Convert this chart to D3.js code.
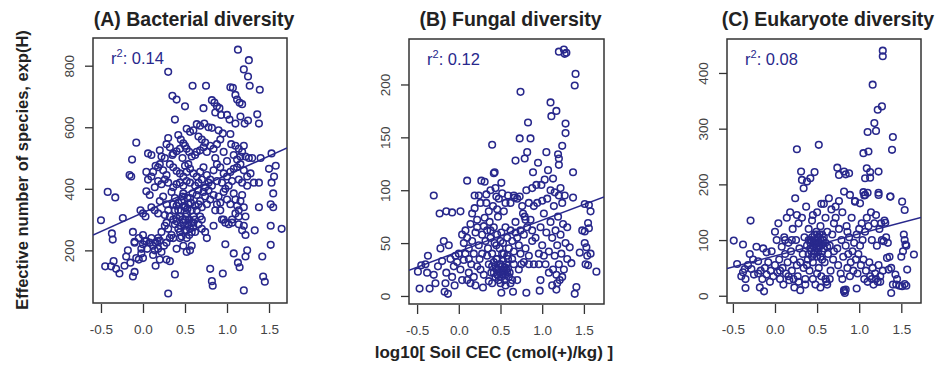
<!DOCTYPE html>
<html>
<head>
<meta charset="utf-8">
<script src="https://cdn.jsdelivr.net/npm/d3@7"></script>
<style>
  html, body { margin: 0; padding: 0; background: #fff; }
  svg { display: block; font-family: "Liberation Sans", Arial, sans-serif; }
</style>
</head>
<body>
<svg id="chart" width="947" height="372"></svg>
<script>
// ---- data ---------------------------------------------------------------
const panelTitles = ["(A) Bacterial diversity", "(B) Fungal diversity", "(C) Eukaryote diversity"];
const r2Labels = ["0.14", "0.12", "0.08"];
const fitIntercepts = [322.5, 42.0, 71.5];
const fitSlopes = [122.6, 29.7, 39.7];
const xTickValues = [-0.5, 0.0, 0.5, 1.0, 1.5];
const xTickLabels = ["-0.5", "0.0", "0.5", "1.0", "1.5"];
const yTicksBacterial = [200, 400, 600, 800];
const yTicksFungal = [0, 50, 100, 150, 200];
const yTicksEukaryote = [0, 100, 200, 300, 400];
const xAxisTitle = "log10[ Soil CEC (cmol(+)/kg) ]";
const yAxisTitle = "Effective number of species, exp(H)";

const bacterialPoints = [
  [1.13,852],[1.26,818],[1.20,788],[1.25,765],[1.27,735],[1.39,722],[0.30,780],[0.59,735],[0.75,735],[1.04,730],
  [1.07,728],[1.10,705],[1.12,690],[1.15,680],[1.18,675],[0.35,702],[0.40,690],
  [0.50,668],[0.72,662],[0.82,688],[0.85,680],[0.88,668],[0.91,662],[0.86,648],[0.93,640],[1.00,640],[1.03,625],
  [1.16,635],[1.21,612],[1.25,622],[1.36,642],[1.38,612],[0.38,625],[0.64,610],[0.68,605],[0.73,612],[0.78,600],
  [0.82,598],[1.10,612],[0.56,585],[0.52,595],[0.60,590],[0.90,590],[0.95,580],[1.04,578],
  [0.30,565],[0.42,575],[0.45,560],[0.48,548],[0.50,540],[0.52,530],[0.55,520],[0.44,530],[0.40,522],[0.36,515],
  [0.32,535],[0.28,545],[0.66,570],[0.70,560],[0.74,550],[0.72,535],[0.68,525],[0.76,520],[0.80,540],[0.84,530],
  [0.88,545],[0.92,560],[0.96,520],[0.86,500],[1.05,545],[1.10,540],[1.14,530],[1.18,520],[1.22,505],[1.20,540],
  [1.08,510],[1.12,495],[1.16,505],[1.26,500],[1.30,500],[1.40,500],[1.53,515],[-0.08,550],[0.06,515],[0.10,510],
  [0.20,525],[0.22,505],[0.26,500],[0.35,510],[0.47,500],[0.58,505],[0.62,510],[0.64,520],[0.54,480],[0.50,475],[1.00,490],
  [-0.13,495],[-0.16,445],[-0.14,440],[0.04,455],[0.12,455],[0.15,475],[0.18,470],[0.20,480],[0.24,460],[0.28,445],
  [0.32,480],[0.36,470],[0.40,458],[0.44,450],[0.48,440],[0.52,455],[0.56,465],[0.60,450],[0.64,440],[0.68,455],
  [0.72,470],[0.76,445],[0.80,430],[0.84,460],[0.88,480],[0.92,470],[0.96,450],[1.00,440],[1.04,455],[1.08,465],
  [1.12,470],[1.16,480],[1.20,460],[1.24,440],[1.28,450],[1.32,420],[1.24,410],[1.18,420],[1.14,430],[1.06,425],
  [1.02,410],[0.98,400],[0.94,420],[0.88,425],[0.82,410],[0.78,420],[0.74,405],[0.70,430],[0.66,420],[0.62,410],
  [0.56,420],[0.52,425],[0.48,410],[0.44,420],[0.40,415],[0.36,405],[0.30,420],[0.26,430],[0.22,415],[0.18,425],
  [0.14,405],[0.10,440],[0.06,430],[1.50,465],[1.58,475],[1.56,440],[1.53,420],[1.38,420],
  [-0.42,390],[-0.33,372],[0.04,392],[0.08,380],[-0.24,305],[-0.03,330],[0.00,320],[0.03,310],[0.10,340],[0.14,330],
  [0.18,320],[0.20,360],[0.24,375],[0.28,350],[0.30,330],[0.34,390],[0.38,370],[0.40,345],[0.42,330],[0.44,310],
  [0.46,360],[0.48,385],[0.50,340],[0.52,320],[0.54,350],[0.56,370],[0.58,330],[0.60,310],[0.62,345],[0.64,380],
  [0.66,395],[0.68,360],[0.70,340],[0.72,390],[0.74,375],[0.76,350],[0.78,395],[0.80,365],[0.84,380],[0.86,330],
  [0.88,350],[0.90,375],[0.92,355],[0.96,390],[1.00,365],[1.04,350],[1.08,385],[1.10,365],[1.12,345],[1.14,330],
  [1.16,360],[1.18,380],[1.20,340],[1.22,310],[1.14,310],[1.10,320],[1.06,300],[0.96,300],[0.92,330],[1.55,385],
  [1.55,340],[1.52,350],[1.38,340],[0.40,305],[0.50,300],[0.36,300],[0.26,315],[0.32,310],
  [0.45,330],[0.47,300],[0.49,345],[0.51,310],[0.53,370],[0.55,300],[0.57,355],[0.59,385],[0.45,280],[0.50,265],
  [0.55,250],[0.60,290],[0.42,355],[0.38,330],[0.36,350],[0.62,300],[0.64,330],[0.66,350],[0.68,310],[0.70,300],
  [0.53,335],[0.47,375],[0.58,260],[0.44,240],[0.52,240],
  [-0.50,298],[-0.37,255],[-0.36,235],[-0.12,260],[-0.10,228],[-0.05,240],[0.00,250],[0.04,230],[0.08,225],[0.12,215],
  [0.15,225],[0.18,240],[0.20,232],[0.22,260],[0.26,280],[0.28,290],[0.30,270],[0.34,250],[0.36,240],[0.38,285],
  [0.40,295],[0.42,270],[0.44,260],[0.46,245],[0.48,290],[0.50,280],[0.52,265],[0.54,285],[0.56,270],[0.58,290],
  [0.60,275],[0.62,260],[0.66,285],[0.70,270],[0.74,260],[0.76,240],[0.84,280],[0.94,300],[0.98,290],[1.02,285],
  [1.06,290],[1.14,285],[1.18,265],[1.22,250],[1.20,280],[1.33,265],[1.52,280],[1.65,270],[1.52,218],[0.98,220],
  [0.48,215],[0.56,200],[0.58,215],[0.40,205],[0.10,240],[0.17,230],[0.05,205],[0.02,230],[0.00,220],[-0.02,205],
  [-0.18,200],[-0.10,225],[0.14,200],[0.18,205],[0.22,195],[0.25,215],[0.28,225],[0.32,240],
  [-0.45,148],[-0.38,148],[-0.35,165],[-0.32,140],[-0.28,125],[-0.22,150],[-0.20,180],[-0.15,160],[-0.10,130],[-0.12,115],
  [-0.05,170],[-0.08,175],[-0.02,190],[0.12,185],[0.20,170],[0.15,150],[0.38,122],[0.30,60],[0.28,170],[0.32,165],
  [0.52,195],[0.80,140],[0.82,100],[0.83,85],[0.95,125],[1.08,190],[1.13,160],[1.15,145],[1.20,70],[1.22,180],
  [1.24,200],[1.42,180],[1.43,115],[1.45,98],[0.00,175]
];

const fungalPoints = [
  [1.20,231],[1.26,233],[1.29,230],[1.27,229],[1.40,210],[1.39,199],[0.74,193],[1.10,183],[1.17,175],[1.11,170],
  [0.83,164],[1.28,163],[1.28,154],[0.40,143],[0.73,149],[0.86,149],[1.24,142],[1.05,136],[1.19,134],[0.82,136],
  [0.79,130],[0.68,128],[0.95,126],[1.20,130],[1.20,124],[0.43,117],[0.89,117],[1.07,119],[1.37,117],[0.42,116],
  [0.10,109],[0.27,109],[0.31,108],[0.51,107],[-0.30,95],[0.19,95],[0.33,96],[0.45,94],[0.59,95],[0.67,93],
  [0.73,94],[0.81,100],[0.88,102],[0.93,105],[0.99,105],[1.03,110],[1.13,111],[1.22,102],[1.27,95],[1.37,93],
  [1.51,87],[1.56,86],[-0.23,78],[-0.15,80],[-0.08,79],[0.02,80],[0.19,83],[0.77,78],[0.79,75],
  [-0.45,29],[-0.49,23],[-0.37,38],[-0.47,7],[-0.35,7],[-0.17,4],[-0.13,2],[-0.40,30],[-0.38,22],[-0.30,20],
  [-0.28,12],[-0.25,28],[-0.22,45],[-0.20,33],[-0.18,52],[-0.16,12],[-0.15,22],[-0.12,48],[-0.10,35],[-0.08,18],
  [-0.06,28],[-0.05,10],[-0.04,38],[-0.02,32],[0.00,40],[0.02,25],[0.04,15],[0.06,34],
  [0.29,8],[0.51,3],[0.65,4],[0.81,3],[0.97,5],[1.17,6],[1.39,2],[1.41,8.5],
  [1.65,23],[1.55,29],[1.54,38],[1.53,46],[1.51,61],[1.55,69],[1.58,80],[1.35,31],[1.45,41],[1.51,50],
  [1.33,46],[1.56,64],[1.58,40],[1.52,30],[1.48,62],
  [0.08,62],[0.10,55],[0.12,45],[0.14,68],[0.15,30],[0.16,52],[0.18,40],[0.20,60],[0.22,72],[0.24,48],
  [0.25,35],[0.26,25],[0.28,58],[0.30,66],[0.10,15],[0.12,22],[0.14,12],[0.18,18],[0.22,28],[0.06,50],
  [0.04,58],[0.08,40],[0.20,10],[0.28,40],[0.30,20],[0.16,78],[0.26,88],[0.24,95],[0.22,65],[0.12,35],
  [0.32,52],[0.34,62],[0.35,45],[0.36,30],[0.37,70],[0.38,55],[0.39,22],[0.40,40],[0.41,85],[0.42,65],
  [0.43,50],[0.44,18],[0.45,35],[0.46,58],[0.47,75],[0.48,25],[0.49,45],[0.50,30],[0.51,60],[0.52,20],
  [0.53,50],[0.54,40],[0.55,15],[0.56,65],[0.57,25],[0.58,55],[0.59,35],[0.60,18],[0.33,88],[0.38,100],
  [0.44,102],[0.48,92],[0.52,97],[0.56,88],[0.36,80],[0.46,82],[0.54,80],[0.34,38],[0.40,28],[0.42,22],
  [0.46,20],[0.50,22],[0.52,28],[0.54,24],[0.56,20],[0.58,22],[0.44,28],[0.48,15],[0.36,14],[0.40,12],
  [0.62,12],[0.64,15],[0.66,30],[0.60,45],[0.50,52],[0.45,48],[0.38,62],[0.31,74],
  [0.45,25],[0.47,20],[0.49,30],[0.51,18],[0.53,33],[0.55,27],[0.57,30],[0.59,26],[0.61,22],[0.50,12],
  [0.56,10],[0.46,35],[0.52,40],[0.58,38],[0.42,32],
  [0.62,62],[0.64,52],[0.66,42],[0.68,70],[0.70,55],[0.72,48],[0.74,62],[0.75,30],[0.76,85],[0.78,58],
  [0.80,45],[0.82,65],[0.84,38],[0.86,72],[0.88,52],[0.90,30],[0.70,15],[0.72,25],[0.78,32],[0.84,30],
  [0.88,62],[0.66,95],[0.62,88],[0.70,92],[0.84,88],[0.90,85],[0.80,72],[0.74,40],[0.68,60],[0.64,35],
  [0.92,55],[0.94,88],[0.96,40],[0.98,65],[1.00,48],[1.02,78],[1.04,30],[1.05,60],[1.06,92],[1.08,42],
  [1.10,70],[1.12,55],[1.13,25],[1.14,85],[1.15,38],[1.16,62],[1.17,20],[1.18,48],[1.19,75],[1.20,30],
  [1.21,15],[1.22,58],[1.23,40],[1.24,88],[1.25,68],[1.26,25],[1.28,50],[1.30,35],[1.30,65],[1.10,100],
  [1.15,98],[1.20,95],[1.00,90],[0.96,30],[1.02,38],[1.12,10],[1.18,12],[1.24,18],[1.08,22],[0.98,15]
];

const eukaryotePoints = [
  [1.28,440],[1.28,430],[1.16,379],[1.22,334],[1.27,340],[1.18,310],[1.10,294],[1.20,296],[1.40,285],[1.39,262],
  [0.26,263],[0.52,271],[1.05,256],[1.11,259],[0.31,223],[0.47,222],[0.74,230],[0.82,223],[0.88,220],[1.09,229],
  [1.13,222],[1.23,223],[0.32,208],[0.38,205],[0.42,211],[0.34,193],[0.76,217],[0.84,218],[1.07,211],[1.13,212],
  [0.82,187],[0.89,181],[0.95,169],[1.01,166],[1.05,186],[1.07,181],[1.23,181],[1.37,178],[1.51,169],[1.54,154],
  [-0.29,135],[-0.49,99],[-0.38,92],[-0.45,57],[-0.35,14],[-0.13,8],[0.82,8],[0.84,11],[0.97,13],[1.38,5],
  [1.53,110],[1.55,92],[1.65,74],[1.57,47],[1.43,38],[1.54,21],[1.51,17],[1.35,47],[1.33,68],[1.29,98],[1.31,131],
  [-0.40,35],[-0.38,42],[-0.35,30],[-0.32,55],[-0.30,75],[-0.28,48],[-0.25,38],[-0.22,88],[-0.20,62],[-0.18,15],
  [-0.17,45],[-0.15,30],[-0.14,85],[-0.12,50],[-0.10,38],[-0.08,60],[-0.06,25],[-0.05,45],[-0.04,80],[-0.02,35],
  [0.00,55],[0.00,115],[0.02,100],[0.03,42],[-0.10,78],[-0.20,40],[-0.26,65],[-0.36,48],
  [0.04,130],[0.05,65],[0.06,30],[0.08,88],[0.09,50],[0.10,20],[0.11,105],[0.12,75],[0.13,40],[0.14,140],
  [0.15,60],[0.16,95],[0.17,28],[0.18,150],[0.19,80],[0.20,45],[0.21,120],[0.22,65],[0.23,15],[0.24,175],
  [0.25,100],[0.26,55],[0.27,35],[0.28,130],[0.29,85],[0.30,60],[0.30,10],[0.12,100],[0.20,100],[0.26,145],
  [0.06,45],[0.16,35],[0.22,30],[0.28,25],
  [0.32,140],[0.33,75],[0.34,50],[0.35,105],[0.36,30],[0.37,160],[0.38,90],[0.39,65],[0.40,120],[0.41,45],
  [0.42,100],[0.43,80],[0.44,135],[0.45,60],[0.46,95],[0.47,110],[0.48,20],[0.49,85],[0.50,70],[0.51,105],
  [0.52,50],[0.53,90],[0.54,125],[0.55,35],[0.56,80],[0.57,100],[0.58,165],[0.59,60],[0.60,140],[0.61,25],
  [0.62,115],[0.63,75],[0.64,175],[0.65,90],[0.66,45],[0.67,155],[0.68,110],[0.69,65],[0.70,130],[0.44,98],
  [0.48,92],[0.52,96],[0.46,75],[0.54,70],[0.50,110],[0.42,85],[0.56,110],[0.58,85],[0.40,75],[0.38,55],
  [0.50,40],[0.60,30],[0.62,20],[0.54,15],[0.45,30],[0.36,20],[0.50,150],[0.45,145],[0.55,165],[0.65,30],
  [0.42,95],[0.44,105],[0.46,88],[0.48,100],[0.50,95],[0.52,85],[0.54,100],[0.56,92],[0.58,105],[0.60,95],
  [0.47,80],[0.53,110],[0.49,115],[0.51,78],[0.40,100],[0.62,88],[0.44,70],[0.56,65],
  [0.72,160],[0.74,85],[0.75,55],[0.76,120],[0.78,40],[0.79,100],[0.80,150],[0.81,70],[0.82,10],[0.83,5],
  [0.84,90],[0.85,125],[0.86,50],[0.87,75],[0.88,105],[0.89,35],[0.90,60],[0.91,140],[0.92,80],[0.93,45],
  [0.94,95],[0.95,170],[0.96,65],[0.97,110],[0.98,40],[0.99,75],[0.76,170],[0.72,140],[0.80,30],[0.70,80],[0.86,115],
  [1.00,120],[1.01,90],[1.02,55],[1.03,130],[1.04,100],[1.05,65],[1.06,30],[1.07,115],[1.08,45],[1.09,140],
  [1.10,25],[1.11,125],[1.12,60],[1.13,35],[1.14,150],[1.15,100],[1.16,50],[1.17,20],[1.18,130],[1.19,40],
  [1.20,145],[1.21,90],[1.22,25],[1.23,55],[1.24,120],[1.25,35],[1.26,130],[1.27,100],[1.28,45],[1.30,135],
  [1.32,105],[1.34,95],[1.36,70],[1.38,50],[1.40,20],[1.06,180],[1.10,185],[1.23,185],[1.37,178],[1.15,30],
  [1.20,30],[1.25,25],[1.45,30],[1.50,70],[1.52,80],[1.54,100],[1.56,90],[1.56,18],[1.48,18],[1.44,20]
];

const seriesPoints = [bacterialPoints, fungalPoints, eukaryotePoints];
const seriesYTicks = [yTicksBacterial, yTicksFungal, yTicksEukaryote];

// ---- layout -------------------------------------------------------------
const panels = [
  { left: 93,  right: 287, top: 38, bottom: 303, xDomain: [-0.595, 1.714], yDomain: [29, 890] },
  { left: 409, right: 604, top: 39, bottom: 304, xDomain: [-0.597, 1.741], yDomain: [-7.6, 243] },
  { left: 727, right: 921, top: 39, bottom: 303, xDomain: [-0.570, 1.734], yDomain: [-13, 461] }
];

const ink = "#28288c";
const axisInk = "#333";
const svg = d3.select("#chart");

panels.forEach((p, i) => {
  const x = d3.scaleLinear().domain(p.xDomain).range([p.left, p.right]);
  const y = d3.scaleLinear().domain(p.yDomain).range([p.bottom, p.top]);
  const g = svg.append("g");

  const clipId = "clip" + i;
  svg.append("clipPath").attr("id", clipId)
    .append("rect").attr("x", p.left).attr("y", p.top)
    .attr("width", p.right - p.left).attr("height", p.bottom - p.top);

  // x axis: ticks only, drawn just below the frame
  const xAxis = d3.axisBottom(x).tickValues(xTickValues)
    .tickFormat((d, k) => xTickLabels[k]).tickSize(9).tickPadding(11);
  const gx = g.append("g").attr("transform", `translate(0,${p.bottom + 1})`).call(xAxis);
  gx.select(".domain").remove();
  gx.selectAll("line").attr("stroke", axisInk).attr("stroke-width", 1.3);
  gx.selectAll("text").attr("fill", "#444").style("font-size", "13.5px")
    .style("font-family", "'Liberation Sans', Arial, sans-serif");

  // y axis: rotated labels, parallel to the axis
  const yAxis = d3.axisLeft(y).tickValues(seriesYTicks[i]).tickSize(8).tickPadding(0);
  const gy = g.append("g").attr("transform", `translate(${p.left},0)`).call(yAxis);
  gy.select(".domain").remove();
  gy.selectAll("line").attr("stroke", axisInk).attr("stroke-width", 1.3);
  gy.selectAll("text")
    .attr("x", null).attr("dy", null)
    .attr("transform", "translate(-24,0) rotate(-90)")
    .attr("text-anchor", "middle")
    .attr("dominant-baseline", "central")
    .attr("fill", "#444").style("font-size", "13.5px")
    .style("font-family", "'Liberation Sans', Arial, sans-serif");

  // frame
  g.append("rect").attr("x", p.left).attr("y", p.top)
    .attr("width", p.right - p.left).attr("height", p.bottom - p.top)
    .attr("fill", "none").attr("stroke", "#333").attr("stroke-width", 1.5);

  // points
  g.append("g").attr("clip-path", `url(#${clipId})`)
    .selectAll("circle").data(seriesPoints[i]).join("circle")
    .attr("cx", d => x(d[0])).attr("cy", d => y(d[1])).attr("r", 3.3)
    .attr("fill", "none").attr("stroke", ink).attr("stroke-width", 1.55);

  // fitted line
  const fit = xv => fitIntercepts[i] + fitSlopes[i] * xv;
  g.append("line").attr("clip-path", `url(#${clipId})`)
    .attr("x1", x(p.xDomain[0])).attr("y1", y(fit(p.xDomain[0])))
    .attr("x2", x(p.xDomain[1])).attr("y2", y(fit(p.xDomain[1])))
    .attr("stroke", ink).attr("stroke-width", 1.5);

  // r-squared label
  const lab = g.append("text").attr("x", p.left + 18).attr("y", p.top + 26)
    .attr("fill", ink).style("font-size", "16.5px");
  lab.append("tspan").text("r");
  lab.append("tspan").attr("dy", -7).style("font-size", "11px").text("2");
  lab.append("tspan").attr("dy", 7).text(": " + r2Labels[i]);

  // panel title
  g.append("text").attr("x", (p.left + p.right) / 2 + 4).attr("y", 26)
    .attr("text-anchor", "middle").attr("fill", "#222")
    .style("font-size", "19.5px").style("font-weight", "bold")
    .text(panelTitles[i]);
});

// shared axis titles
svg.append("text").attr("x", 494).attr("y", 358).attr("text-anchor", "middle")
  .attr("fill", "#222").style("font-size", "17px").style("font-weight", "bold")
  .text(xAxisTitle);
svg.append("text").attr("transform", "translate(28,170) rotate(-90)")
  .attr("text-anchor", "middle").attr("fill", "#222")
  .style("font-size", "16.5px").style("font-weight", "bold")
  .text(yAxisTitle);
</script>
</body>
</html>
